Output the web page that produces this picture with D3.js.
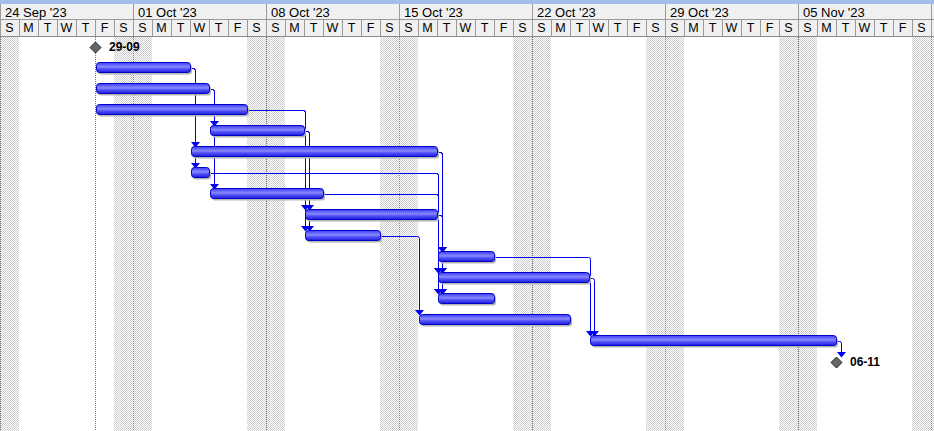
<!DOCTYPE html>
<html><head><meta charset="utf-8">
<script src="https://cdn.jsdelivr.net/npm/d3@7"></script>
<style>html,body{margin:0;padding:0;background:#fff;overflow:hidden}svg{display:block}</style>
</head><body><svg id="c" width="934" height="431"></svg>
<script>
// ---------- data ----------
const weekLabels = ["24 Sep '23","01 Oct '23","08 Oct '23","15 Oct '23","22 Oct '23","29 Oct '23","05 Nov '23"];
const dayLetters = ["S","M","T","W","T","F","S"];

// task bars (rows 1..14), inclusive finish dates
const taskStart  = ["2023-09-29","2023-09-29","2023-09-29","2023-10-05","2023-10-04","2023-10-04","2023-10-05",
                    "2023-10-10","2023-10-10","2023-10-17","2023-10-17","2023-10-17","2023-10-16","2023-10-25"];
const taskFinish = ["2023-10-03","2023-10-04","2023-10-06","2023-10-09","2023-10-16","2023-10-04","2023-10-10",
                    "2023-10-16","2023-10-13","2023-10-19","2023-10-24","2023-10-19","2023-10-23","2023-11-06"];

// milestones (rows 0 and 15)
const milestoneRows   = [0, 15];
const milestoneDates  = ["2023-09-29","2023-11-06"];
const milestoneAtEnd  = [false, true];
const milestoneLabels = ["29-09","06-11"];

const projectStart = "2023-09-29";

// finish-to-start links (row indices)
const linkFrom = [1,1,2,2,3,3,4,4,5,5,5,8,8,8,6,6,7,7,9,10,11,14];
const linkTo   = [5,6,4,7,8,9,8,9,10,11,12,10,11,12,11,12,11,12,13,14,14,15];

// ---------- setup ----------
const W = 934, H = 431;
const parse = s => { const [y,m,d] = s.split("-").map(Number); return new Date(Date.UTC(y, m-1, d)); };
const x = d3.scaleUtc().domain([new Date(Date.UTC(2023,8,24)), new Date(Date.UTC(2023,10,13))]).range([0, 950]);
const rowY = d3.scaleLinear().domain([0,1]).range([47,68]);
const FONT = "'Liberation Sans', Arial, sans-serif";

const svg = d3.select("#c");
const defs = svg.append("defs");
const pat = defs.append("pattern").attr("id","st").attr("width",2).attr("height",2).attr("patternUnits","userSpaceOnUse");
pat.append("rect").attr("width",2).attr("height",2).attr("fill","#fff");
pat.append("rect").attr("x",0).attr("y",0).attr("width",1).attr("height",1).attr("fill","#cdcdcd");
pat.append("rect").attr("x",1).attr("y",1).attr("width",1).attr("height",1).attr("fill","#cdcdcd");

const grad = defs.append("linearGradient").attr("id","bg").attr("x1",0).attr("y1",0).attr("x2",0).attr("y2",1);
[[0,"#3a3af4"],[0.28,"#6c6cff"],[0.45,"#8a8aff"],[0.62,"#5656fa"],[1,"#1c1cdc"]]
  .forEach(([o,c]) => grad.append("stop").attr("offset",o).attr("stop-color",c));

svg.append("rect").attr("width",W).attr("height",H).attr("fill","#fff");

const days = d3.utcDay.range(x.domain()[0], x.domain()[1]);
const weeks = d3.utcSunday.range(x.domain()[0], x.domain()[1]);
const TOP = 37;

// weekend stipple
svg.append("g").selectAll("rect").data(days.filter(d => d.getUTCDay()===0 || d.getUTCDay()===6))
  .join("rect").attr("x", d => x(d)).attr("y", TOP).attr("width", d => x(d3.utcDay.offset(d,1)) - x(d))
  .attr("height", H-TOP).attr("fill","url(#st)");

// dotted week lines + project start line
const vl = svg.append("g").attr("stroke","#7a7a7a").attr("stroke-dasharray","1,1");
vl.selectAll("line").data(weeks.concat([parse(projectStart)])).join("line")
  .attr("x1", d => Math.round(x(d))+0.5).attr("x2", d => Math.round(x(d))+0.5)
  .attr("y1", TOP).attr("y2", H);

// ---------- header ----------
const hdr = svg.append("g");
hdr.append("rect").attr("x",0).attr("y",0).attr("width",W).attr("height",4).attr("fill","#a3bdec");
hdr.append("rect").attr("x",0).attr("y",4).attr("width",W).attr("height",33).attr("fill","#f0f0f0");
hdr.append("line").attr("x1",0).attr("x2",W).attr("y1",19.5).attr("y2",19.5).attr("stroke","#9a9a9a");
hdr.append("line").attr("x1",0).attr("x2",W).attr("y1",36.5).attr("y2",36.5).attr("stroke","#8a8a8a");
hdr.append("g").selectAll("line").data(weeks).join("line")
  .attr("x1", d => Math.round(x(d))+0.5).attr("x2", d => Math.round(x(d))+0.5)
  .attr("y1",4).attr("y2",19).attr("stroke","#9a9a9a");
hdr.append("g").selectAll("text").data(weeks.slice(0, weekLabels.length)).join("text")
  .attr("x", d => x(d)+5).attr("y",17).attr("font-family",FONT).attr("font-size","13px").attr("fill","#000")
  .text((d,i) => weekLabels[i]);
hdr.append("g").selectAll("line").data(days).join("line")
  .attr("x1", d => Math.round(x(d))+0.5).attr("x2", d => Math.round(x(d))+0.5)
  .attr("y1",20).attr("y2",36).attr("stroke","#9a9a9a");
hdr.append("g").selectAll("text").data(days.filter(d => x(d) + 19 <= W)).join("text")
  .attr("x", d => x(d)+9.5).attr("y",32).attr("text-anchor","middle")
  .attr("font-family",FONT).attr("font-size","12.5px").attr("fill","#000")
  .text(d => dayLetters[d.getUTCDay()]);

// ---------- row geometry ----------
function rowInfo(r) {
  const mi = milestoneRows.indexOf(r);
  if (mi >= 0) {
    let d = parse(milestoneDates[mi]); if (milestoneAtEnd[mi]) d = d3.utcDay.offset(d,1);
    return {s: x(d), e: x(d), milestone: true};
  }
  const s = parse(taskStart[r-1]), e = d3.utcDay.offset(parse(taskFinish[r-1]),1);
  return {s: x(s), e: x(e), milestone: false};
}

// ---------- links ----------
const lg = svg.append("g");
linkFrom.forEach((f,i) => {
  const t = linkTo[i], a = rowInfo(f), b = rowInfo(t);
  const y0 = Math.round(rowY(f)) + 0.5;
  const vx = (b.s > a.e + 4) ? Math.round(b.s) + 1.5 : Math.round(a.e) + 5.5;
  const tip = Math.round(rowY(t)) - 5;
  const base = tip - 5;
  lg.append("path").attr("d", `M${Math.round(a.e)+1},${y0}H${vx-2}Q${vx},${y0} ${vx},${y0+2}V${base}`)
    .attr("fill","none").attr("stroke","#0000ee").attr("stroke-width",1);
  lg.append("path").attr("d", `M${vx-4.5},${base}H${vx+4.5}L${vx},${tip+0.5}Z`).attr("fill","#0000ee");
});

// ---------- bars ----------
const tasksIdx = d3.range(1, taskStart.length+1);
const bg = svg.append("g");
bg.selectAll("rect.sh").data(tasksIdx).join("rect").attr("class","sh")
  .attr("x", r => rowInfo(r).s + 3).attr("y", r => rowY(r) - 3.5)
  .attr("width", r => rowInfo(r).e - rowInfo(r).s - 1).attr("height", 10).attr("rx",3)
  .attr("fill","#b4b4b4");
bg.selectAll("rect.bar").data(tasksIdx).join("rect").attr("class","bar")
  .attr("x", r => rowInfo(r).s + 1.5).attr("y", r => rowY(r) - 5.5)
  .attr("width", r => rowInfo(r).e - rowInfo(r).s - 1).attr("height", 10).attr("rx",3)
  .attr("fill","url(#bg)").attr("stroke","#0000c8").attr("stroke-width",1);

// ---------- milestones ----------
const mg = svg.append("g");
milestoneRows.forEach((r,i) => {
  const info = rowInfo(r), cx = info.s + 0.5, cy = rowY(r) + 0.5;
  mg.append("path").attr("d", `M${cx},${cy-5.5}L${cx+5.5},${cy}L${cx},${cy+5.5}L${cx-5.5},${cy}Z`)
    .attr("fill","#666").attr("stroke","#262626").attr("stroke-width",1);
  mg.append("text").attr("x", cx + 13.5).attr("y", cy + 3.5)
    .attr("font-family",FONT).attr("font-size","12px").attr("font-weight","bold").attr("fill","#000")
    .text(milestoneLabels[i]);
});
</script></body></html>
